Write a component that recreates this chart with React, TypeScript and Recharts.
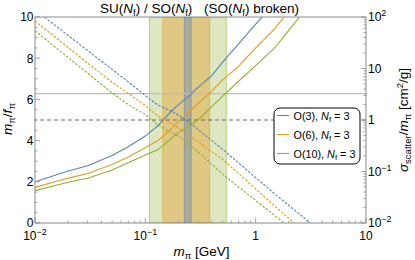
import React from 'react';
import { LineChart, Line, XAxis, YAxis, ReferenceArea, ReferenceLine } from 'recharts';

const FONT = '"Liberation Sans", Arial, sans-serif';

// pion mass grid [GeV]
const masses = [0.01, 0.02, 0.03, 0.05, 0.07, 0.1, 0.13, 0.17, 0.2, 0.25, 0.3, 0.4, 0.5, 0.7, 1.0, 1.5, 2.0, 2.5, 3.0, 4.0];

// m_pi / f_pi (left axis)
const o3Ratio = [2.0, 2.52, 2.78, 3.28, 3.7, 4.22, 4.72, 5.4, 5.75, 6.17, 6.58, 7.15, 7.8, 8.7, 9.65, 10.7, 11.5, 12.2, 12.8, 13.8];
const o6Ratio = [1.73, 2.18, 2.4, 2.84, 3.2, 3.65, 4.0, 4.55, 4.93, 5.4, 5.8, 6.4, 6.95, 7.6, 8.5, 9.45, 10.3, 11.0, 11.6, 12.5];
const o10Ratio = [1.57, 1.98, 2.17, 2.57, 2.92, 3.3, 3.55, 4.08, 4.4, 4.72, 5.0, 5.65, 6.15, 6.88, 7.64, 8.52, 9.36, 10.0, 10.5, 11.4];

// sigma_scatter / m_pi [cm^2/g] (right axis)
const o3Sigma = [138, 43.7, 22.3, 9.6, 5.5, 2.99, 1.95, 1.51, 1.24, 0.895, 0.656, 0.398, 0.271, 0.147, 0.0759, 0.0363, 0.0219, 0.0148, 0.0107, 0.0065];
const o6Sigma = [83.8, 25.5, 12.7, 5.4, 3.28, 1.9, 1.19, 0.869, 0.7, 0.504, 0.38, 0.243, 0.173, 0.0912, 0.046, 0.0211, 0.0122, 0.0079, 0.0056, 0.0032];
const o10Sigma = [54.2, 16.3, 8.1, 3.35, 1.99, 1.28, 0.8, 0.583, 0.481, 0.346, 0.243, 0.138, 0.089, 0.05, 0.0274, 0.0138, 0.0085, 0.0058, 0.0043, 0.0026];

const seriesNames = ['O(3)', 'O(6)', 'O(10)'];
const nfValue = 3;
const colors = ['#5E81B5', '#E19C24', '#8FB032'];

// shaded mass windows [GeV]
const bandLo = [0.109, 0.144, 0.226];
const bandHi = [0.542, 0.383, 0.26];
const bandColors = ['#8FB032', '#E19C24', '#5E81B5'];
const bandOpacity = [0.3, 0.4, 0.4];

const perturbativeBound = 2 * Math.PI;
const sigmaBound = 1;

const xMajorTicks = [0.01, 0.1, 1, 10];
const xTickLabels: [string, string][] = [['10', '−2'], ['10', '−1'], ['1', ''], ['10', '']];
const leftMajorTicks = [0, 2, 4, 6, 8, 10];
const rightMajorTicks = [0.01, 0.1, 1, 10, 100];
const rightTickLabels: [string, string][] = [['10', '−2'], ['10', '−1'], ['1', ''], ['10', ''], ['10', '2']];

const logMinor = (decades: number[]) => {
  const out: number[] = [];
  decades.forEach((d) => {
    for (let k = 1; k <= 9; k++) out.push(+(k * d).toPrecision(6));
  });
  return out;
};
const xTicks = [...logMinor([0.01, 0.1, 1]), 10];
const rightTicks = [...logMinor([0.01, 0.1, 1, 10]), 100];
const leftTicks: number[] = [];
for (let v = 0; v <= 10.001; v += 0.5) leftTicks.push(+v.toFixed(1));

const rows = masses.map((m, i) => ({
  m,
  r0: o3Ratio[i],
  r1: o6Ratio[i],
  r2: o10Ratio[i],
  s0: o3Sigma[i],
  s1: o6Sigma[i],
  s2: o10Sigma[i],
}));

const AXIS = '#8a8a8a';

const findIdx = (arr: number[], v: number) => arr.findIndex((t) => Math.abs(t - v) / Math.max(t, 1e-9) < 1e-6 || (t === 0 && v === 0));

const XTick = (props: any) => {
  const { x, y, payload } = props;
  const idx = findIdx(xMajorTicks, payload.value);
  const major = idx >= 0;
  return (
    <g>
      <line x1={x} x2={x} y1={y} y2={y - (major ? 5 : 2.5)} stroke={AXIS} strokeWidth={0.8} />
      {major && (
        <text x={x} y={y + 16.5} textAnchor="middle" fontSize={12} fontFamily={FONT} fill="#000">
          <tspan>{xTickLabels[idx][0]}</tspan>
          {xTickLabels[idx][1] && <tspan dy={-5} fontSize={9}>{xTickLabels[idx][1]}</tspan>}
        </text>
      )}
    </g>
  );
};

const LeftTick = (props: any) => {
  const { x, y, payload } = props;
  const major = leftMajorTicks.includes(payload.value);
  return (
    <g>
      <line x1={x} x2={x + (major ? 5 : 2.5)} y1={y} y2={y} stroke={AXIS} strokeWidth={0.8} />
      {major && (
        <text x={x - 1.5} y={y + 4.3} textAnchor="end" fontSize={12} fontFamily={FONT} fill="#000">
          {payload.value}
        </text>
      )}
    </g>
  );
};

const RightTick = (props: any) => {
  const { x, y, payload } = props;
  const idx = findIdx(rightMajorTicks, payload.value);
  const major = idx >= 0;
  return (
    <g>
      <line x1={x} x2={x - (major ? 5 : 2.5)} y1={y} y2={y} stroke={AXIS} strokeWidth={0.8} />
      {major && (
        <text x={x + 2} y={y + 4.3} textAnchor="start" fontSize={12} fontFamily={FONT} fill="#000">
          <tspan>{rightTickLabels[idx][0]}</tspan>
          {rightTickLabels[idx][1] && <tspan dy={-5} fontSize={9}>{rightTickLabels[idx][1]}</tspan>}
        </text>
      )}
    </g>
  );
};

const Sub = ({ children, size = 9.5 }: { children: React.ReactNode; size?: number }) => (
  <tspan fontSize={size} dy={3}>{children}</tspan>
);

export default function App() {
  return (
    <div style={{ position: 'absolute', left: 0, top: 0, width: 415, height: 260, background: '#fff' }}>
      <LineChart width={415} height={260} data={rows} margin={{ top: 17, right: 0, bottom: 0, left: 0 }}>
        <XAxis
          dataKey="m"
          type="number"
          scale="log"
          domain={[0.01, 10]}
          allowDataOverflow
          ticks={xTicks}
          interval={0}
          tickSize={0}
          tickMargin={0}
          tickLine={false}
          tick={(p: any) => <XTick {...p} />}
          axisLine={{ stroke: AXIS }}
          height={37}
        />
        <YAxis
          yAxisId="left"
          orientation="left"
          type="number"
          domain={[0, 10]}
          allowDataOverflow
          ticks={leftTicks}
          interval={0}
          tickSize={0}
          tickMargin={0}
          tickLine={false}
          tick={(p: any) => <LeftTick {...p} />}
          axisLine={{ stroke: AXIS }}
          width={35}
        />
        <YAxis
          yAxisId="right"
          orientation="right"
          type="number"
          scale="log"
          domain={[0.01, 100]}
          allowDataOverflow
          ticks={rightTicks}
          interval={0}
          tickSize={0}
          tickMargin={0}
          tickLine={false}
          tick={(p: any) => <RightTick {...p} />}
          axisLine={{ stroke: AXIS }}
          width={49}
        />
        {bandLo.map((lo, i) => (
          <ReferenceArea
            key={'band' + i}
            yAxisId="left"
            x1={lo}
            x2={bandHi[i]}
            y1={0}
            y2={10}
            fill={bandColors[i]}
            fillOpacity={bandOpacity[i]}
            stroke={bandColors[i]}
            strokeOpacity={0.55}
            strokeWidth={1}
            ifOverflow="hidden"
          />
        ))}
        <ReferenceLine yAxisId="left" y={perturbativeBound} stroke="#bdbdbd" strokeWidth={1.3} />
        <ReferenceLine yAxisId="right" y={sigmaBound} stroke="#666" strokeDasharray="4 3" strokeWidth={1} />
        <ReferenceLine yAxisId="left" y={10} stroke={AXIS} strokeWidth={1} />
        {['r0', 'r1', 'r2'].map((k, i) => (
          <Line
            key={k}
            yAxisId="left"
            dataKey={k}
            type="linear"
            stroke={colors[i]}
            strokeWidth={1.1}
            dot={false}
            activeDot={false}
            isAnimationActive={false}
          />
        ))}
        {['s0', 's1', 's2'].map((k, i) => (
          <Line
            key={k}
            yAxisId="right"
            dataKey={k}
            type="linear"
            stroke={colors[i]}
            strokeWidth={1.1}
            strokeDasharray="2.5 1.5"
            dot={false}
            activeDot={false}
            isAnimationActive={false}
          />
        ))}
      </LineChart>
      <svg width={415} height={260} style={{ position: 'absolute', left: 0, top: 0, pointerEvents: 'none' }}>
        <g fontFamily={FONT} fill="#000">
          <text x={100} y={12.5} fontSize={13.5}>
            SU(<tspan fontStyle="italic">N</tspan><Sub>f</Sub><tspan dy={-3}>) / SO(</tspan>
            <tspan fontStyle="italic">N</tspan><Sub>f</Sub><tspan dy={-3}>)</tspan>
          </text>
          <text x={204} y={12.5} fontSize={13.5}>
            (SO(<tspan fontStyle="italic">N</tspan><Sub>f</Sub><tspan dy={-3}>) broken)</tspan>
          </text>
          <text x={201.5} y={256} fontSize={13.5} textAnchor="middle">
            <tspan fontStyle="italic">m</tspan><Sub>π</Sub><tspan dy={-3}> [GeV]</tspan>
          </text>
          <text x={12} y={119} fontSize={13.5} textAnchor="middle" transform="rotate(-90 12 119)">
            <tspan fontStyle="italic">m</tspan><Sub>π</Sub><tspan dy={-3}>/</tspan>
            <tspan fontStyle="italic">f</tspan><Sub>π</Sub>
          </text>
          <text x={408} y={120} fontSize={13.5} textAnchor="middle" transform="rotate(-90 408 120)">
            <tspan fontStyle="italic">σ</tspan><Sub>scatter</Sub><tspan dy={-3}>/</tspan>
            <tspan fontStyle="italic">m</tspan><Sub>π</Sub><tspan dy={-3}> [cm</tspan>
            <tspan fontSize={9.5} dy={-5}>2</tspan><tspan dy={5}>/g]</tspan>
          </text>
        </g>
        <rect x={274} y={108} width={86} height={56} rx={6} ry={6} fill="#fff" stroke="#000" strokeWidth={1} />
        {seriesNames.map((name, i) => {
          const cy = 115.5 + i * 19;
          return (
            <g key={name}>
              <line x1={277} x2={289} y1={cy} y2={cy} stroke={colors[i]} strokeWidth={1.1} />
              <text x={293.5} y={cy + 4} fontSize={10.8} fontFamily={FONT} fill="#000">
                {name}, <tspan fontStyle="italic">N</tspan><tspan fontSize={7.8} dy={2.5}>f</tspan>
                <tspan dy={-2.5}> = {nfValue}</tspan>
              </text>
            </g>
          );
        })}
      </svg>
    </div>
  );
}
